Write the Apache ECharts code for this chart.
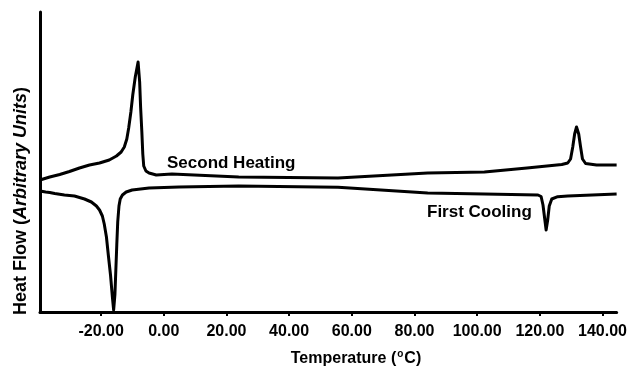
<!DOCTYPE html>
<html>
<head>
<meta charset="utf-8">
<script src="https://cdn.jsdelivr.net/npm/echarts@6/dist/echarts.min.js"></script>
<style>
html, body { margin: 0; padding: 0; background: #fff; }
#chart { width: 630px; height: 369px; }
</style>
</head>
<body>
<div id="chart"></div>
<script>
// DSC traces, heat flow in arbitrary units
var tickValues = [-20, 0, 20, 40, 60, 80, 100, 120, 140];

var heatTemp = [-39.5, -36.4, -33.2, -30.1, -26.9, -23.7, -20.5, -17.4, -15.1, -13.6, -12.6, -11.8, -11.2, -10.5, -9.9, -9.1, -8.2, -7.7, -7.4, -7.0, -6.7, -6.4, -5.7, -4.7, -2.4, 2.6, 23.9, 55.6, 84.2, 102.3, 115.9, 127.0, 128.9, 129.8, 130.5, 131.1, 131.7, 132.4, 133.0, 133.6, 134.6, 138.1, 144.5];
var heatFlow = [132, 135, 137.5, 140.5, 144, 147, 149, 152, 156, 160, 165, 173, 184, 200, 217, 235, 250, 230, 205, 180, 158, 146, 141, 139, 137, 138, 135, 134, 139, 140, 144, 147.5, 149, 153, 165, 178, 185, 178, 165, 153, 148.5, 147, 147];

var coolTemp = [-39.5, -37.7, -36.4, -34.8, -31.7, -28.5, -25.3, -23.1, -21.5, -20.5, -19.6, -19.0, -18.3, -17.7, -17.0, -16.4, -16.0, -15.6, -15.3, -15.0, -14.7, -14.3, -13.9, -13.2, -12.0, -10.1, -4.7, 4.9, 23.9, 55.6, 84.2, 102.3, 119.4, 120.4, 121.0, 121.6, 122.0, 122.5, 123.0, 123.8, 125.7, 128.9, 144.5];
var coolFlow = [121, 120, 119.5, 118.5, 117, 116, 113, 110, 106, 102, 96, 88, 75, 57, 37, 15, 2, 17, 42, 67, 90, 106, 113, 117, 120, 122, 124, 125, 126, 124.7, 119, 118, 117, 115.5, 107, 92, 82, 92, 106, 113, 115.3, 116, 118];

function pairs(xs, ys) {
    var out = [];
    for (var i = 0; i < xs.length; i++) {
        out.push([xs[i], ys[i]]);
    }
    return out;
}

var myChart = echarts.init(document.getElementById('chart'), null, {renderer: 'canvas'});
var font = '"Liberation Sans", Arial, sans-serif';

var option = {
    animation: false,
    backgroundColor: '#fff',
    grid: {left: 40, right: 10, top: 12, bottom: 57},
    xAxis: {
        type: 'value',
        min: -39.5,
        max: 144.5,
        splitLine: {show: false},
        axisLine: {onZero: false, lineStyle: {color: '#000', width: 3}},
        axisTick: {
            customValues: tickValues,
            length: 4,
            inside: false,
            lineStyle: {color: '#000', width: 2}
        },
        axisLabel: {
            customValues: tickValues,
            margin: 12,
            color: '#000',
            fontFamily: font,
            fontWeight: 'bold',
            fontSize: 16,
            formatter: function (v) { return v.toFixed(2); }
        }
    },
    yAxis: {
        type: 'value',
        min: 0,
        max: 300,
        splitLine: {show: false},
        axisLine: {show: true, onZero: false, lineStyle: {color: '#000', width: 3}},
        axisTick: {show: false},
        axisLabel: {show: false}
    },
    graphic: [
        {
            type: 'text',
            x: 356, y: 359,
            style: {
                text: '{n|Temperature (}{s|o}{n|C)}',
                align: 'center',
                verticalAlign: 'middle',
                rich: {
                    n: {fontFamily: font, fontWeight: 'bold', fontSize: 16, lineHeight: 20, fill: '#000'},
                    s: {fontFamily: font, fontWeight: 'bold', fontSize: 10, lineHeight: 10, verticalAlign: 'top', fill: '#000', padding: [0, 1, 0, 1]}
                }
            }
        },
        {
            type: 'text',
            x: 21, y: 201,
            rotation: Math.PI / 2,
            style: {
                text: '{n|Heat Flow (}{i|Arbitrary Units}{n|)}',
                align: 'center',
                verticalAlign: 'middle',
                rich: {
                    n: {fontFamily: font, fontWeight: 'bold', fontSize: 18, fill: '#000'},
                    i: {fontFamily: font, fontWeight: 'bold', fontStyle: 'italic', fontSize: 18, fill: '#000'}
                }
            }
        },
        {
            type: 'text',
            x: 167, y: 163,
            style: {
                text: 'Second Heating',
                verticalAlign: 'middle',
                fontFamily: font, fontWeight: 'bold', fontSize: 17, fill: '#000'
            }
        },
        {
            type: 'text',
            x: 427, y: 212,
            style: {
                text: 'First Cooling',
                verticalAlign: 'middle',
                fontFamily: font, fontWeight: 'bold', fontSize: 17, fill: '#000'
            }
        }
    ],
    series: [
        {
            name: 'Second Heating',
            type: 'line',
            showSymbol: false,
            data: pairs(heatTemp, heatFlow),
            lineStyle: {color: '#000', width: 3, join: 'round'}
        },
        {
            name: 'First Cooling',
            type: 'line',
            showSymbol: false,
            data: pairs(coolTemp, coolFlow),
            lineStyle: {color: '#000', width: 3, join: 'round'}
        }
    ]
};

if (option)
    myChart.setOption(option);
</script>
</body>
</html>
